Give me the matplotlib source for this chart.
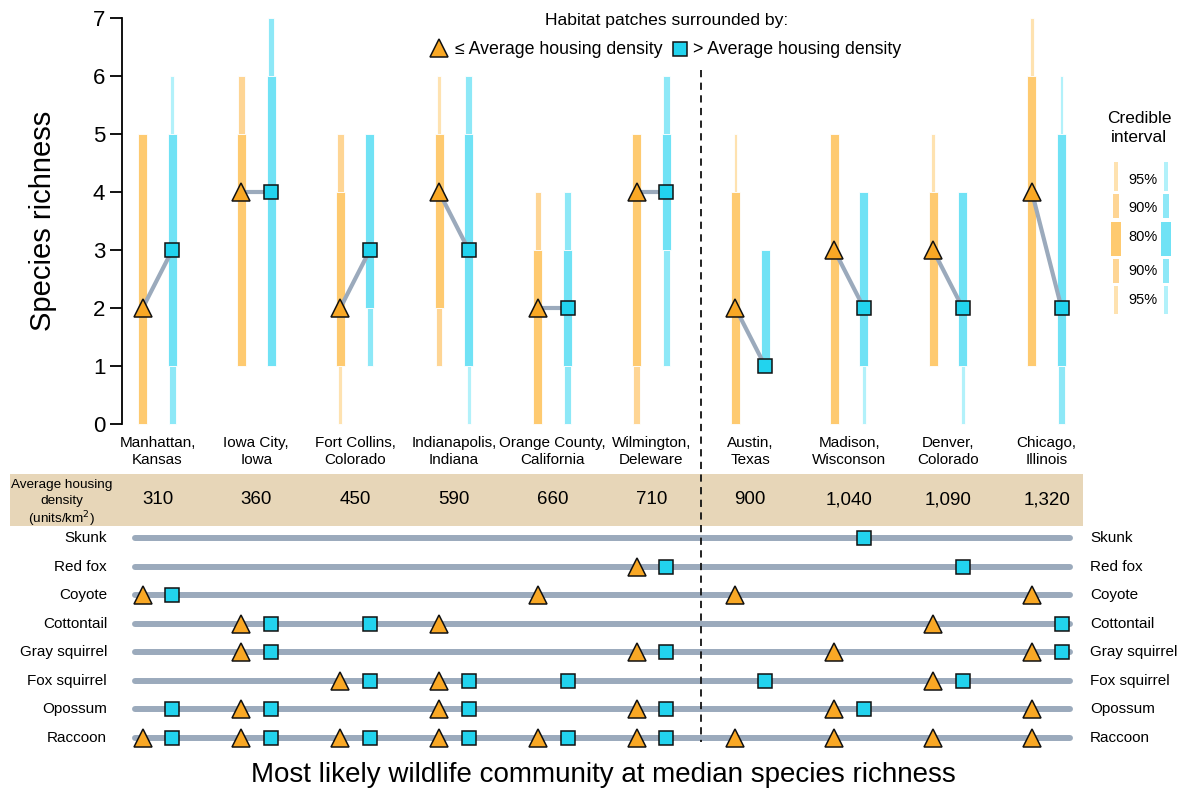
import numpy as np
import matplotlib
matplotlib.use("Agg")
import matplotlib.pyplot as plt
from matplotlib.lines import Line2D
from matplotlib.patches import Rectangle
from matplotlib.transforms import blended_transform_factory

plt.rcParams['font.family'] = ['Liberation Sans', 'DejaVu Sans']

# --- data -------------------------------------------------------------
cities = ["Manhattan,\nKansas", "Iowa City,\nIowa", "Fort Collins,\nColorado",
          "Indianapolis,\nIndiana", "Orange County,\nCalifornia", "Wilmington,\nDeleware",
          "Austin,\nTexas", "Madison,\nWisconson", "Denver,\nColorado", "Chicago,\nIllinois"]
housing_density = ["310", "360", "450", "590", "660", "710", "900", "1,040", "1,090", "1,320"]

# median species richness, patches at or below / above average housing density
rich_low = [2, 4, 2, 4, 2, 4, 2, 3, 3, 4]
rich_high = [3, 4, 3, 3, 2, 4, 1, 2, 2, 2]

# credible intervals (lower, upper)
low_ci95 = [(0, 5), (1, 6), (0, 5), (1, 6), (0, 4), (0, 5), (0, 5), (0, 5), (1, 5), (1, 7)]
low_ci90 = [(0, 5), (1, 6), (1, 5), (1, 5), (0, 4), (0, 5), (0, 4), (0, 5), (1, 4), (1, 6)]
low_ci80 = [(0, 5), (1, 5), (1, 4), (2, 5), (0, 3), (1, 5), (0, 4), (0, 5), (1, 4), (1, 6)]
high_ci95 = [(0, 6), (1, 7), (1, 5), (0, 6), (0, 4), (1, 6), (1, 3), (0, 4), (0, 4), (0, 6)]
high_ci90 = [(0, 5), (1, 7), (1, 5), (1, 6), (0, 4), (1, 6), (1, 3), (1, 4), (1, 4), (0, 5)]
high_ci80 = [(1, 5), (1, 6), (2, 5), (1, 5), (1, 3), (3, 5), (1, 3), (1, 4), (1, 4), (1, 5)]

# most likely community: city indices where each species is present
species = ["Skunk", "Red fox", "Coyote", "Cottontail", "Gray squirrel",
           "Fox squirrel", "Opossum", "Raccoon"]
present_low = [[], [5], [0, 4, 6, 9], [1, 3, 8], [1, 5, 7, 9], [2, 3, 8],
               [1, 3, 5, 7, 9], [0, 1, 2, 3, 4, 5, 6, 7, 8, 9]]
present_high = [[7], [5, 8], [0], [1, 2, 9], [1, 5, 9], [2, 3, 4, 6, 8],
                [0, 1, 3, 5, 7], [0, 1, 2, 3, 4, 5]]

# --- style ------------------------------------------------------------
ORANGE = ["#FECA70", "#FED594", "#FEE2B0"]   # 80, 90, 95 %
BLUE = ["#70E2F5", "#8DE8F7", "#B2F1FA"]
TRI_FC = "#F9A825"
SQ_FC = "#22D3EE"
LINK = "#9BAABC"
BAND = "#E7D6B8"
WIDTHS = [0.092, 0.066, 0.040]               # bar widths in x units
OFF = 0.15

W, H = 1181, 792
fig = plt.figure(figsize=(W / 100, H / 100), dpi=100)

def px(i):
    return 157.5 + 98.8 * i

XL = (-0.36, 9.9)
ax = fig.add_axes([px(XL[0]) / W, 1 - 429.8 / H, (px(XL[1]) - px(XL[0])) / W, (429.8 - 12.2) / H])
ax2 = fig.add_axes([px(XL[0]) / W, 1 - 752.3 / H, (px(XL[1]) - px(XL[0])) / W, (752.3 - 463.7) / H])
for a in (ax, ax2):
    a.set_xlim(*XL)
    a.patch.set_alpha(0)
ax.set_ylim(-0.1, 7.1)
ax2.set_ylim(-0.5, 9.6)


def draw_ci(x, c95, c90, c80, colors):
    segs = [(c95[0], c90[0], 2), (c90[1], c95[1], 2),
            (c90[0], c80[0], 1), (c80[1], c90[1], 1),
            (c80[0], c80[1], 0)]
    for lo, hi, k in segs:
        if hi > lo:
            ax.bar(x, hi - lo, bottom=lo, width=WIDTHS[k], color=colors[k],
                   edgecolor="white", linewidth=0.6, zorder=2, clip_on=False)


idx = np.arange(len(cities))
for i in idx:
    draw_ci(i - OFF, low_ci95[i], low_ci90[i], low_ci80[i], ORANGE)
    draw_ci(i + OFF, high_ci95[i], high_ci90[i], high_ci80[i], BLUE)
    ax.plot([i - OFF, i + OFF], [rich_low[i], rich_high[i]], color=LINK, lw=3,
            zorder=3, solid_capstyle="butt")

ax.plot(idx - OFF, rich_low, ls="none", marker="^", ms=13, mfc=TRI_FC, mec="#111111",
        mew=1.1, zorder=4, clip_on=False)
ax.plot(idx + OFF, rich_high, ls="none", marker="s", ms=9.5, mfc=SQ_FC, mec="#111111",
        mew=1.1, zorder=4, clip_on=False)

for i, name in enumerate(cities):
    ax.text(i, -0.2, name, ha="center", va="top", fontsize=11, linespacing=1.3)

# axis styling
for s in ("top", "right", "bottom"):
    ax.spines[s].set_visible(False)
ax.spines["left"].set_bounds(0, 7)
ax.spines["left"].set_linewidth(1.3)
ax.set_xticks([])
ax.set_yticks(range(8))
ax.tick_params(axis="y", length=8.5, width=1.3, labelsize=16, pad=3.5)
ax.set_ylabel("Species richness", fontsize=21, labelpad=26)

# housing density band
ax2.add_patch(Rectangle((-1.493, 7.42), 9.367 + 1.493, 1.82, facecolor=BAND,
                        edgecolor="none", clip_on=False, zorder=0))
for i, d in enumerate(housing_density):
    ax2.text(i, 8.33, d, ha="center", va="center", fontsize=13.5)
band_label = ["Average housing", "density", "(units/km$^2$)"]
for line, y in zip(band_label, [8.89, 8.33, 7.77]):
    ax2.text(-0.967, y, line, ha="center", va="center_baseline", fontsize=9.7,
             clip_on=False)

# community rows
nrow = len(species)
for r, sp in enumerate(species):
    y = nrow - 1 - r
    ax2.plot([-0.228, 9.236], [y, y], color=LINK, lw=4.3, solid_capstyle="round", zorder=1)
    ax2.text(-0.511, y, sp, ha="right", va="center", fontsize=11, clip_on=False)
    ax2.text(9.437, y, sp, ha="left", va="center", fontsize=11)
    xl = np.array(present_low[r]) - OFF
    xh = np.array(present_high[r]) + OFF
    ax2.plot(xl, [y] * len(xl), ls="none", marker="^", ms=13, mfc=TRI_FC,
             mec="#111111", mew=1.1, zorder=3)
    ax2.plot(xh, [y] * len(xh), ls="none", marker="s", ms=9.5, mfc=SQ_FC,
             mec="#111111", mew=1.1, zorder=3)
ax2.axis("off")

# split between lower and higher housing density cities
tr = blended_transform_factory(ax.transData, fig.transFigure)
fig.add_artist(Line2D([5.5, 5.5], [1 - 70 / H, 1 - 742 / H], transform=tr,
                      color="#111111", lw=1.3, ls=(0, (4, 3))))

fig.text(603 / W, 1 - 775 / H, "Most likely wildlife community at median species richness",
         ha="center", va="center", fontsize=20)

# marker legend
fig.text(667 / W, 1 - 21 / H, "Habitat patches surrounded by:", ha="center",
         va="center", fontsize=12.6)
fig.add_artist(Line2D([439 / W], [1 - 48 / H], marker="^", ms=13, mfc=TRI_FC,
                      mec="#111111", mew=1.1, transform=fig.transFigure))
fig.text(455 / W, 1 - 49 / H, "≤ Average housing density", ha="left", va="center",
         fontsize=12.8)
fig.add_artist(Line2D([680 / W], [1 - 49 / H], marker="s", ms=9.5, mfc=SQ_FC,
                      mec="#111111", mew=1.1, transform=fig.transFigure))
fig.text(693 / W, 1 - 49 / H, "> Average housing density", ha="left", va="center",
         fontsize=12.8)

# credible interval legend
lg = fig.add_axes([0, 0, 1, 1])
lg.set_xlim(0, W)
lg.set_ylim(H, 0)
lg.axis("off")
lg.text(1139, 128, "Credible\ninterval", ha="center", va="center", fontsize=12.5,
        linespacing=1.3)
leg_segs = [(162, 191, 2), (194, 218, 1), (222, 256, 0), (259, 283, 1), (286, 314, 2)]
leg_px = [10, 6.5, 3.5]
for top, bot, k in leg_segs:
    lg.add_patch(Rectangle((1116 - leg_px[k] / 2, top), leg_px[k], bot - top,
                           facecolor=ORANGE[k], edgecolor="none"))
    lg.add_patch(Rectangle((1166 - leg_px[k] / 2, top), leg_px[k], bot - top,
                           facecolor=BLUE[k], edgecolor="none"))
for lab, y in zip(["95%", "90%", "80%", "90%", "95%"], [180, 208, 237, 271, 300]):
    lg.text(1128, y, lab, ha="left", va="center", fontsize=10.5)

fig.savefig("out.png", dpi=100)
